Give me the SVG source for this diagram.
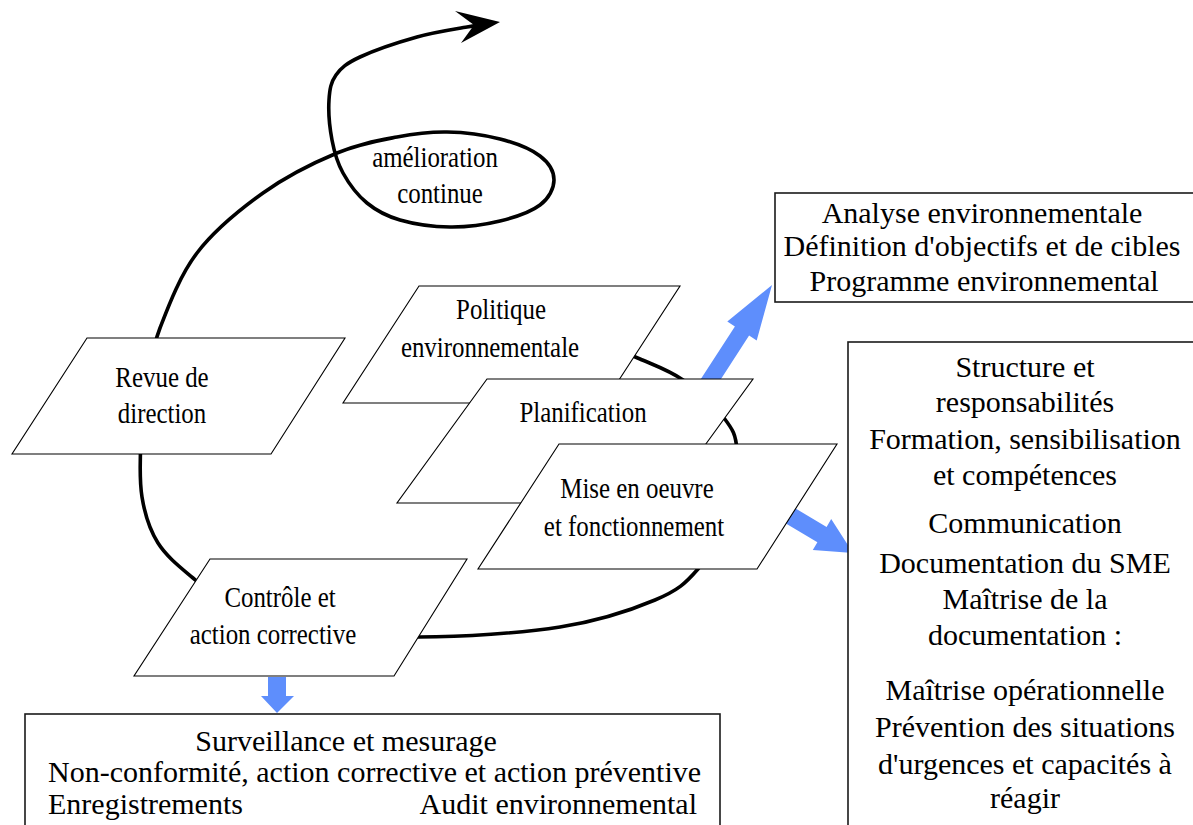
<svg xmlns="http://www.w3.org/2000/svg" width="1193" height="825" viewBox="0 0 1193 825">
<style>
.pg{fill:#fff;stroke:#000;stroke-width:1.1}
.box{fill:#fff;stroke:#1a1a1a;stroke-width:1.6}
.t{font-family:'Liberation Serif','Times New Roman','DejaVu Serif',serif;font-size:30px;fill:#000;text-anchor:middle}
.ts{text-anchor:start}
.te{text-anchor:end}
.curve{fill:none;stroke:#000;stroke-width:3.6;stroke-linecap:round}
.blue{fill:#5e8efc}
</style>
<rect width="1193" height="825" fill="#fff"/>
<g id="connectors">
<path class="curve" d="M605,346 C610.8,348.2 627,353.3 640,359 C653,364.7 669,370.2 683,380 C697,389.8 715,406.3 724,418 C733,429.7 735.7,434.3 737,450 C738.3,465.7 738.5,492.2 732,512 C725.5,531.8 710.8,554.3 698,569 C685.2,583.7 678,590.3 655,600 C632,609.7 599.3,620.8 560,627 C520.7,633.2 462.3,636.8 419,637 C375.7,637.2 330.7,632.8 300,628 C269.3,623.2 252.8,616.3 235,608 C217.2,599.7 205.8,588.8 193,578 C180.2,567.2 166.5,556.5 158,543 C149.5,529.5 144.8,514.2 142,497 C139.2,479.8 140,459.5 141,440 C142,420.5 144.8,398.7 148,380 C151.2,361.3 151.8,349.2 160,328 C168.2,306.8 179.8,275.5 197,253 C214.2,230.5 239.7,209.7 263,193 C286.3,176.3 314.7,162.3 337,153 C359.3,143.7 378.7,140.5 397,137 C415.3,133.5 429.8,131.7 447,132 C464.2,132.3 484.5,135 500,139 C515.5,143 531,149.2 540,156 C549,162.8 554,171.8 554,180 C554,188.2 549,198.2 540,205 C531,211.8 515,217.3 500,221 C485,224.7 466.7,227.2 450,227 C433.3,226.8 413.8,224 400,220 C386.2,216 376.5,210.8 367,203 C357.5,195.2 348.8,183.5 343,173 C337.2,162.5 334.3,152.2 332,140 C329.7,127.8 328.3,110.8 329,100 C329.7,89.2 330.8,82.2 336,75 C341.2,67.8 346.5,63.3 360,57 C373.5,50.7 399.2,42 417,37 C434.8,32 454.8,29.2 467,27 C479.2,24.8 482,24.5 486,24"/>
<polygon points="500,22 455,11 474,25 461,43" fill="#000"/>
<polygon class="blue" points="698.4,382.8 734.9,326.4 727.3,321.5 772,285 756.7,340.5 749.1,335.6 712.6,392"/>
<polygon class="blue" points="785,502.2 826.6,526.9 831.2,519.1 853,553 812.8,550.1 817.4,542.3 775.8,517.6"/>
<polygon class="blue" points="268,677 286,677 286,696 294,696 277,713 261,696 268,696"/>
</g>
<g id="revue">
<polygon class="pg" points="87,338 345,338 271,454 12,454"/>
<text class="t" transform="translate(162,387) scale(0.83,1)">Revue de</text>
<text class="t" transform="translate(162,423) scale(0.83,1)">direction</text>
</g>
<g id="politique">
<polygon class="pg" points="419,286 680,286 604,403 343,403"/>
<text class="t" transform="translate(501,319) scale(0.83,1)">Politique</text>
<text class="t" transform="translate(490,357) scale(0.83,1)">environnementale</text>
</g>
<g id="planification">
<polygon class="pg" points="487,379 753,379 663,503 397,503"/>
<text class="t" transform="translate(583,422) scale(0.83,1)">Planification</text>
</g>
<g id="mise">
<polygon class="pg" points="559,444 837,444 757,569 478,569"/>
<text class="t" transform="translate(637,498) scale(0.83,1)">Mise en oeuvre</text>
<text class="t" transform="translate(634,536) scale(0.83,1)">et fonctionnement</text>
</g>
<g id="controle">
<polygon class="pg" points="210,559 467,559 394,676 134,676"/>
<text class="t" transform="translate(280,607) scale(0.83,1)">Contrôle et</text>
<text class="t" transform="translate(273,644) scale(0.83,1)">action corrective</text>
</g>
<g id="amelioration">
<text class="t" transform="translate(435,167) scale(0.83,1)">amélioration</text>
<text class="t" transform="translate(440,203) scale(0.83,1)">continue</text>
</g>
<g id="box-planif">
<rect class="box" x="775" y="193" width="430" height="109"/>
<text class="t" x="982" y="223">Analyse environnementale</text>
<text class="t" x="982" y="256">Définition d'objectifs et de cibles</text>
<text class="t" x="984" y="291">Programme environnemental</text>
</g>
<g id="box-mise">
<rect class="box" x="848" y="342" width="360" height="500"/>
<text class="t" x="1025" y="377">Structure et</text>
<text class="t" x="1025" y="412">responsabilités</text>
<text class="t" x="1025" y="449">Formation, sensibilisation</text>
<text class="t" x="1025" y="485">et compétences</text>
<text class="t" x="1025" y="533">Communication</text>
<text class="t" x="1025" y="573">Documentation du SME</text>
<text class="t" x="1025" y="609">Maîtrise de la</text>
<text class="t" x="1025" y="645">documentation :</text>
<text class="t" x="1025" y="700">Maîtrise opérationnelle</text>
<text class="t" x="1025" y="737">Prévention des situations</text>
<text class="t" x="1025" y="774">d'urgences et capacités à</text>
<text class="t" x="1025" y="808">réagir</text>
</g>
<g id="box-controle">
<rect class="box" x="25" y="714" width="695" height="130"/>
<text class="t" x="346" y="751">Surveillance et mesurage</text>
<text class="t ts" x="48" y="782">Non-conformité, action corrective et action préventive</text>
<text class="t ts" x="48" y="814">Enregistrements</text>
<text class="t te" x="697" y="814">Audit environnemental</text>
</g>
</svg>
